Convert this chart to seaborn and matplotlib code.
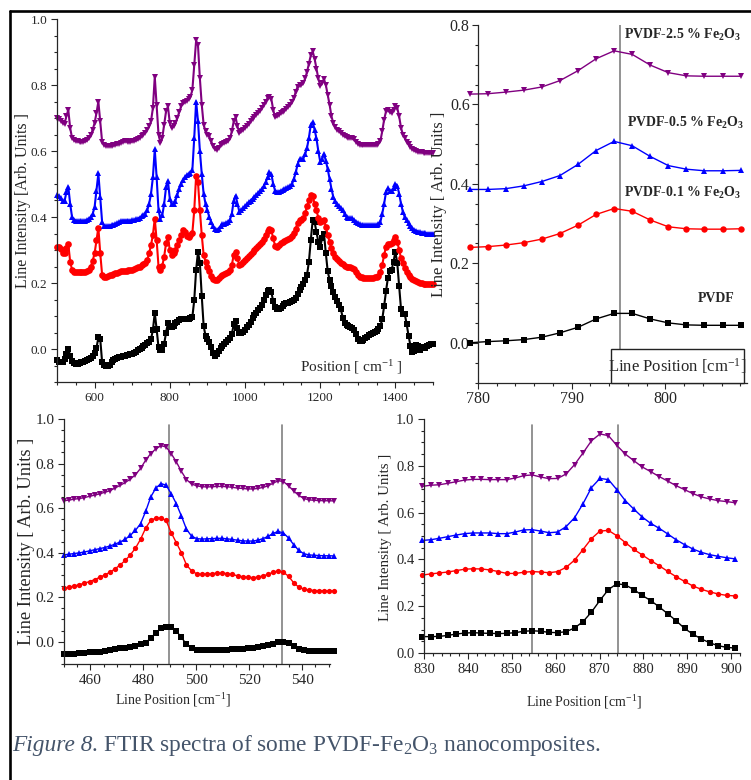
import numpy as np
import pandas as pd
import matplotlib
matplotlib.use('Agg')
import matplotlib.pyplot as plt
import seaborn as sns
from matplotlib.ticker import MultipleLocator, FormatStrFormatter
from matplotlib.patches import Rectangle
from matplotlib.lines import Line2D

# ---- data ----
samples = ['PVDF', 'PVDF-0.1 % Fe2O3', 'PVDF-0.5 % Fe2O3', 'PVDF-2.5 % Fe2O3']
colors = ['black', 'red', 'blue', '#800080']
marks = ['s', 'o', '^', 'v']

# full spectrum, 500-1500 cm-1 every 5 cm-1
tl_x = np.arange(500, 1501, 5)
tl_black = [
    -0.034, -0.038, -0.040, -0.038, -0.030, -0.015, 0.000, -0.020, -0.036, -0.042,
    -0.045, -0.044, -0.042, -0.040, -0.038, -0.035, -0.033, -0.030, -0.027, -0.022,
    -0.012, 0.003, 0.035, 0.030, -0.040, -0.048, -0.052, -0.052, -0.048, -0.038,
    -0.033, -0.030, -0.027, -0.025, -0.023, -0.021, -0.020, -0.019, -0.017, -0.016,
    -0.015, -0.012, -0.008, -0.004, 0.000, 0.004, 0.008, 0.012, 0.017, 0.022,
    0.030, 0.057, 0.110, 0.060, 0.005, -0.003, -0.004, 0.015, 0.050, 0.078,
    0.068, 0.066, 0.070, 0.078, 0.083, 0.087, 0.090, 0.092, 0.091, 0.090,
    0.092, 0.093, 0.097, 0.148, 0.240, 0.295, 0.260, 0.160, 0.070, 0.040,
    0.030, 0.020, 0.005, -0.012, -0.020, -0.015, -0.005, 0.003, 0.010, 0.016,
    0.021, 0.026, 0.032, 0.045, 0.075, 0.085, 0.065, 0.047, 0.048, 0.052,
    0.058, 0.066, 0.074, 0.083, 0.095, 0.103, 0.110, 0.117, 0.124, 0.133,
    0.148, 0.163, 0.175, 0.180, 0.172, 0.145, 0.127, 0.122, 0.121, 0.124,
    0.130, 0.135, 0.138, 0.140, 0.142, 0.144, 0.148, 0.155, 0.168, 0.178,
    0.188, 0.198, 0.210, 0.225, 0.265, 0.330, 0.390, 0.385, 0.355, 0.325,
    0.310, 0.335, 0.350, 0.290, 0.235, 0.210, 0.190, 0.172, 0.158, 0.145,
    0.133, 0.120, 0.095, 0.078, 0.072, 0.069, 0.067, 0.063, 0.058, 0.045,
    0.030, 0.025, 0.024, 0.028, 0.033, 0.037, 0.041, 0.044, 0.048, 0.052,
    0.056, 0.060, 0.070, 0.090, 0.130, 0.175, 0.215, 0.235, 0.240, 0.265,
    0.295, 0.260, 0.190, 0.120, 0.107, 0.105, 0.075, 0.040, 0.010, -0.008,
    -0.005, 0.012, 0.010, -0.003, 0.002, 0.005, 0.003, 0.010, 0.013, 0.015,
    0.016]
tl_red = [
    0.310, 0.308, 0.303, 0.292, 0.290, 0.305, 0.318, 0.265, 0.240, 0.234,
    0.232, 0.232, 0.233, 0.233, 0.233, 0.234, 0.235, 0.240, 0.250, 0.268,
    0.290, 0.330, 0.368, 0.290, 0.225, 0.218, 0.219, 0.221, 0.223, 0.225,
    0.227, 0.229, 0.231, 0.233, 0.235, 0.236, 0.237, 0.237, 0.238, 0.239,
    0.240, 0.242, 0.244, 0.247, 0.250, 0.254, 0.258, 0.262, 0.270, 0.290,
    0.315, 0.345, 0.395, 0.330, 0.250, 0.240, 0.252, 0.280, 0.320, 0.340,
    0.300, 0.285, 0.290, 0.300, 0.315, 0.330, 0.345, 0.360, 0.355, 0.343,
    0.340, 0.345, 0.352, 0.420, 0.525, 0.505, 0.420, 0.345, 0.285, 0.265,
    0.250, 0.235, 0.222, 0.212, 0.208, 0.210, 0.215, 0.220, 0.224, 0.228,
    0.230, 0.234, 0.240, 0.255, 0.285, 0.295, 0.275, 0.254, 0.258, 0.264,
    0.270, 0.276, 0.282, 0.288, 0.294, 0.300, 0.305, 0.312, 0.318, 0.325,
    0.334, 0.345, 0.357, 0.365, 0.360, 0.335, 0.313, 0.310, 0.315, 0.320,
    0.324, 0.328, 0.331, 0.334, 0.337, 0.343, 0.352, 0.365, 0.383, 0.390,
    0.390, 0.398, 0.412, 0.432, 0.452, 0.468, 0.465, 0.440, 0.420, 0.398,
    0.386, 0.388, 0.392, 0.370, 0.345, 0.325, 0.305, 0.290, 0.280, 0.272,
    0.266, 0.262, 0.257, 0.252, 0.249, 0.248, 0.249, 0.246, 0.241, 0.232,
    0.224, 0.219, 0.217, 0.216, 0.216, 0.216, 0.216, 0.216, 0.216, 0.217,
    0.218, 0.222, 0.232, 0.255, 0.285, 0.310, 0.318, 0.318, 0.320, 0.330,
    0.338, 0.325, 0.300, 0.275, 0.262, 0.245, 0.232, 0.224, 0.218, 0.213,
    0.210, 0.206, 0.203, 0.200, 0.199, 0.198, 0.197, 0.197, 0.196, 0.196,
    0.196]
tl_blue = [
    0.467, 0.464, 0.458, 0.448, 0.448, 0.475, 0.492, 0.440, 0.400, 0.392,
    0.389, 0.388, 0.388, 0.388, 0.388, 0.389, 0.390, 0.395, 0.400, 0.410,
    0.430, 0.480, 0.532, 0.460, 0.385, 0.372, 0.372, 0.373, 0.374, 0.375,
    0.377, 0.379, 0.381, 0.384, 0.387, 0.389, 0.389, 0.389, 0.389, 0.389,
    0.390, 0.391, 0.393, 0.395, 0.398, 0.402, 0.406, 0.410, 0.420, 0.440,
    0.470, 0.520, 0.605, 0.520, 0.420, 0.395, 0.405, 0.440, 0.490, 0.510,
    0.455, 0.438, 0.440, 0.450, 0.468, 0.485, 0.500, 0.512, 0.520, 0.527,
    0.530, 0.534, 0.542, 0.640, 0.750, 0.690, 0.600, 0.530, 0.470, 0.440,
    0.420, 0.400, 0.385, 0.372, 0.363, 0.360, 0.365, 0.372, 0.378, 0.380,
    0.382, 0.385, 0.392, 0.410, 0.450, 0.465, 0.440, 0.416, 0.420, 0.426,
    0.432, 0.438, 0.444, 0.450, 0.456, 0.462, 0.467, 0.473, 0.479, 0.485,
    0.493, 0.505, 0.520, 0.535, 0.530, 0.500, 0.480, 0.476, 0.477, 0.479,
    0.481, 0.484, 0.487, 0.490, 0.494, 0.500, 0.515, 0.535, 0.560, 0.575,
    0.575, 0.577, 0.590, 0.610, 0.640, 0.680, 0.688, 0.665, 0.638, 0.600,
    0.568, 0.575, 0.592, 0.570, 0.545, 0.515, 0.485, 0.460, 0.448, 0.440,
    0.434, 0.428, 0.420, 0.410, 0.400, 0.397, 0.397, 0.396, 0.392, 0.386,
    0.381, 0.378, 0.376, 0.375, 0.375, 0.375, 0.375, 0.375, 0.375, 0.375,
    0.376, 0.378, 0.385, 0.410, 0.440, 0.475, 0.487, 0.480, 0.478, 0.488,
    0.500, 0.495, 0.470, 0.440, 0.415, 0.400, 0.390, 0.381, 0.373, 0.366,
    0.361, 0.358, 0.356, 0.354, 0.353, 0.352, 0.351, 0.350, 0.350, 0.350,
    0.350]
tl_purple = [
    0.700, 0.697, 0.692, 0.685, 0.683, 0.705, 0.725, 0.670, 0.640, 0.633,
    0.630, 0.629, 0.628, 0.628, 0.628, 0.629, 0.632, 0.638, 0.648, 0.665,
    0.685, 0.715, 0.750, 0.690, 0.628, 0.618, 0.616, 0.615, 0.615, 0.615,
    0.617, 0.618, 0.620, 0.622, 0.625, 0.628, 0.629, 0.629, 0.628, 0.628,
    0.629, 0.630, 0.632, 0.635, 0.640, 0.645, 0.650, 0.655, 0.665, 0.675,
    0.690, 0.730, 0.825, 0.740, 0.650, 0.625, 0.640, 0.680, 0.720, 0.735,
    0.685, 0.670, 0.675, 0.684, 0.700, 0.718, 0.735, 0.745, 0.748, 0.752,
    0.757, 0.765, 0.785, 0.860, 0.935, 0.920, 0.820, 0.740, 0.680, 0.660,
    0.650, 0.644, 0.630, 0.615, 0.605, 0.603, 0.610, 0.618, 0.622, 0.624,
    0.626, 0.630, 0.638, 0.660, 0.690, 0.702, 0.675, 0.654, 0.660, 0.665,
    0.670, 0.676, 0.682, 0.690, 0.697, 0.704, 0.710, 0.716, 0.722, 0.730,
    0.740, 0.750, 0.760, 0.765, 0.758, 0.725, 0.702, 0.705, 0.710, 0.714,
    0.718, 0.722, 0.728, 0.734, 0.740, 0.748, 0.760, 0.780, 0.795, 0.800,
    0.800, 0.805, 0.820, 0.840, 0.865, 0.890, 0.902, 0.880, 0.850, 0.820,
    0.798, 0.805, 0.818, 0.800, 0.770, 0.740, 0.705, 0.684, 0.672, 0.665,
    0.660, 0.655, 0.650, 0.645, 0.642, 0.640, 0.640, 0.639, 0.635, 0.628,
    0.622, 0.619, 0.617, 0.617, 0.617, 0.617, 0.617, 0.617, 0.617, 0.617,
    0.618, 0.622, 0.630, 0.660, 0.695, 0.720, 0.725, 0.718, 0.715, 0.725,
    0.735, 0.730, 0.705, 0.670, 0.650, 0.640, 0.628, 0.620, 0.612, 0.606,
    0.602, 0.600, 0.598, 0.597, 0.596, 0.595, 0.594, 0.594, 0.593, 0.593,
    0.593]

# 780-808 cm-1 band
tr_x = 779.1 + 1.928 * np.arange(16)
tr_black = [0.000, 0.003, 0.005, 0.008, 0.014, 0.025, 0.039, 0.060,
            0.074, 0.074, 0.060, 0.050, 0.045, 0.044, 0.044, 0.044]
tr_red = [0.240, 0.242, 0.246, 0.252, 0.261, 0.275, 0.296, 0.323,
          0.338, 0.331, 0.309, 0.292, 0.287, 0.286, 0.286, 0.287]
tr_blue = [0.386, 0.386, 0.388, 0.395, 0.406, 0.421, 0.449, 0.484,
           0.507, 0.496, 0.469, 0.446, 0.437, 0.433, 0.433, 0.434]
tr_purple = [0.626, 0.627, 0.631, 0.636, 0.644, 0.660, 0.685, 0.715,
             0.735, 0.726, 0.699, 0.680, 0.672, 0.671, 0.671, 0.671]
tr_lines = [795.1]

# 450-552 cm-1 band
bl_x = 450 + 1.928 * np.arange(54)
bl_black = [
    -0.057, -0.055, -0.053, -0.051, -0.050, -0.048, -0.046, -0.044, -0.041, -0.038,
    -0.034, -0.030, -0.027, -0.024, -0.019, -0.012, -0.005, 0.017, 0.040, 0.062,
    0.068, 0.064, 0.048, 0.020, -0.012, -0.029, -0.036, -0.038, -0.038, -0.037,
    -0.036, -0.035, -0.035, -0.034, -0.033, -0.032, -0.030, -0.028, -0.025, -0.021,
    -0.016, -0.009, -0.003, 0.000, -0.006, -0.020, -0.032, -0.037, -0.040, -0.041,
    -0.042, -0.042, -0.043, -0.043]
bl_red = [
    0.240, 0.245, 0.250, 0.256, 0.263, 0.270, 0.279, 0.289, 0.300, 0.312,
    0.327, 0.345, 0.365, 0.390, 0.420, 0.460, 0.510, 0.545, 0.555, 0.555,
    0.545, 0.490, 0.445, 0.400, 0.345, 0.318, 0.305, 0.302, 0.304, 0.306,
    0.308, 0.308, 0.306, 0.302, 0.296, 0.292, 0.289, 0.288, 0.290, 0.296,
    0.302, 0.313, 0.318, 0.312, 0.294, 0.265, 0.245, 0.236, 0.232, 0.230,
    0.229, 0.229, 0.228, 0.228]
bl_blue = [
    0.390, 0.393, 0.396, 0.399, 0.403, 0.408, 0.413, 0.418, 0.423, 0.430,
    0.438, 0.448, 0.460, 0.478, 0.500, 0.530, 0.585, 0.650, 0.690, 0.710,
    0.703, 0.665, 0.620, 0.565, 0.505, 0.474, 0.463, 0.461, 0.462, 0.463,
    0.464, 0.464, 0.462, 0.459, 0.456, 0.453, 0.452, 0.452, 0.456, 0.463,
    0.473, 0.487, 0.495, 0.488, 0.466, 0.436, 0.410, 0.395, 0.390, 0.388,
    0.387, 0.386, 0.386, 0.385]
bl_purple = [
    0.633, 0.636, 0.640, 0.643, 0.647, 0.653, 0.658, 0.664, 0.671, 0.678,
    0.690, 0.702, 0.715, 0.730, 0.750, 0.778, 0.815, 0.845, 0.866, 0.880,
    0.875, 0.845, 0.808, 0.765, 0.728, 0.708, 0.700, 0.696, 0.695, 0.696,
    0.697, 0.697, 0.696, 0.693, 0.690, 0.688, 0.686, 0.686, 0.688, 0.693,
    0.700, 0.712, 0.723, 0.719, 0.700, 0.677, 0.657, 0.643, 0.637, 0.635,
    0.634, 0.633, 0.633, 0.632]
bl_lines = [489.8, 532.2]

# 830-901 cm-1 band
br_x = 829.6 + 1.928 * np.arange(38)
br_black = [
    0.070, 0.070, 0.071, 0.075, 0.081, 0.085, 0.087, 0.085, 0.084, 0.083,
    0.084, 0.087, 0.093, 0.095, 0.093, 0.088, 0.087, 0.091, 0.107, 0.134,
    0.175, 0.225, 0.271, 0.296, 0.291, 0.271, 0.246, 0.224, 0.197, 0.168,
    0.138, 0.105, 0.080, 0.060, 0.043, 0.031, 0.024, 0.021]
br_red = [
    0.333, 0.338, 0.342, 0.346, 0.352, 0.358, 0.360, 0.359, 0.355, 0.348,
    0.340, 0.340, 0.345, 0.348, 0.346, 0.343, 0.348, 0.366, 0.397, 0.442,
    0.489, 0.521, 0.524, 0.501, 0.472, 0.443, 0.419, 0.395, 0.373, 0.349,
    0.326, 0.306, 0.286, 0.272, 0.261, 0.252, 0.246, 0.244]
br_blue = [
    0.481, 0.484, 0.490, 0.497, 0.504, 0.510, 0.513, 0.513, 0.513, 0.510,
    0.510, 0.517, 0.526, 0.527, 0.521, 0.514, 0.517, 0.540, 0.578, 0.638,
    0.707, 0.746, 0.741, 0.698, 0.651, 0.615, 0.581, 0.554, 0.533, 0.509,
    0.484, 0.463, 0.444, 0.430, 0.420, 0.413, 0.407, 0.402]
br_purple = [
    0.712, 0.717, 0.719, 0.725, 0.732, 0.739, 0.742, 0.742, 0.741, 0.741,
    0.741, 0.748, 0.758, 0.761, 0.752, 0.745, 0.746, 0.765, 0.805, 0.855,
    0.907, 0.936, 0.929, 0.887, 0.850, 0.822, 0.795, 0.775, 0.754, 0.735,
    0.715, 0.698, 0.681, 0.667, 0.658, 0.651, 0.647, 0.642]
br_lines = [854.7, 874.3]

caption_head = 'Figure 8.'
caption_body = r'FTIR spectra of some PVDF-Fe$_2$O$_3$ nanocomposites.'


def long_df(x, *series):
    parts = [pd.DataFrame({'x': x, 'y': y, 'sample': s}) for s, y in zip(samples, series)]
    return pd.concat(parts, ignore_index=True)


def draw(ax, df, ms, lw=1.0):
    sns.lineplot(data=df, x='x', y='y', hue='sample', style='sample',
                 palette=dict(zip(samples, colors)), markers=dict(zip(samples, marks)),
                 dashes=False, markersize=ms, markeredgewidth=0, linewidth=lw,
                 estimator=None, sort=False, legend=False, clip_on=False, ax=ax)
    ax.set_xlabel('')
    ax.set_ylabel('')
    sns.despine(ax=ax)
    for sp in ax.spines.values():
        sp.set_linewidth(0.9)


def style_ticks(ax, size, pad=3):
    ax.yaxis.set_major_formatter(FormatStrFormatter('%.1f'))
    ax.tick_params(which='both', direction='out', labelsize=size, width=0.8, pad=pad)
    ax.tick_params(which='major', length=4)
    ax.tick_params(which='minor', length=2)


sns.set_style('ticks')
plt.rcParams['font.family'] = ['Liberation Serif', 'DejaVu Serif']
plt.rcParams['mathtext.fontset'] = 'custom'
plt.rcParams['mathtext.rm'] = 'Liberation Serif'
plt.rcParams['mathtext.it'] = 'Liberation Serif:italic'
plt.rcParams['mathtext.bf'] = 'Liberation Serif:bold'

W, H = 751, 780
fig = plt.figure(figsize=(W / 100, H / 100), dpi=100)


def add_ax(l, t, r, b):
    return fig.add_axes([l / W, 1 - b / H, (r - l) / W, (b - t) / H])


ax1 = add_ax(57, 19, 433, 382)
ax2 = add_ax(478, 25, 747, 382.5)
ax3 = add_ax(64, 419, 330, 664)
ax4 = add_ax(424, 419, 740, 653)

# top left: full spectrum
draw(ax1, long_df(tl_x, tl_black, tl_red, tl_blue, tl_purple), ms=4.8, lw=1.5)
ax1.set_xlim(500, 1500)
ax1.set_ylim(-0.1, 1.0)
ax1.set_xticks([600, 800, 1000, 1200, 1400])
ax1.xaxis.set_minor_locator(MultipleLocator(50))
ax1.yaxis.set_major_locator(MultipleLocator(0.2))
ax1.yaxis.set_minor_locator(MultipleLocator(0.05))
style_ticks(ax1, 9.5)
ax1.text(0.782, 0.04, r'Position [ cm$^{-1}$ ]', transform=ax1.transAxes,
         ha='center', va='center', fontsize=11)

# top right: 795 band
draw(ax2, long_df(tr_x, tr_black, tr_red, tr_blue, tr_purple), ms=4.6)
ax2.set_xlim(780, 808.7)
ax2.set_ylim(-0.1, 0.8)
ax2.xaxis.set_major_locator(MultipleLocator(10))
ax2.xaxis.set_minor_locator(MultipleLocator(2))
ax2.yaxis.set_major_locator(MultipleLocator(0.2))
ax2.yaxis.set_minor_locator(MultipleLocator(0.05))
style_ticks(ax2, 11.5, pad=2)
for v in tr_lines:
    ax2.axvline(v, ymin=0.09, ymax=1, color='#808080', lw=1.2, zorder=1)
ax2.add_patch(Rectangle((0.493, 0.0), 0.496, 0.094, transform=ax2.transAxes,
                        facecolor='white', edgecolor='#222222', lw=1.0, zorder=5, clip_on=False))
ax2.text(0.741, 0.047, r'Line Position [cm$^{-1}$]', transform=ax2.transAxes,
         ha='center', va='center', fontsize=12, zorder=6)
ann = [(0.542, 0.961, r'PVDF-2.5 % Fe$_\mathbf{2}$O$_\mathbf{3}$'),
       (0.553, 0.716, r'PVDF-0.5 % Fe$_\mathbf{2}$O$_\mathbf{3}$'),
       (0.542, 0.518, r'PVDF-0.1 % Fe$_\mathbf{2}$O$_\mathbf{3}$'),
       (0.817, 0.226, 'PVDF')]
for ax_x, ax_y, s in ann:
    ax2.text(ax_x, ax_y, s, transform=ax2.transAxes, ha='left', va='baseline',
             fontsize=10, fontweight='bold')

# bottom left: 450-552 band
draw(ax3, long_df(bl_x, bl_black, bl_red, bl_blue, bl_purple), ms=3.8)
ax3.set_xlim(450, 550.5)
ax3.set_ylim(-0.1, 1.0)
ax3.set_xticks([460, 480, 500, 520, 540])
ax3.xaxis.set_minor_locator(MultipleLocator(5))
ax3.yaxis.set_major_locator(MultipleLocator(0.2))
ax3.yaxis.set_minor_locator(MultipleLocator(0.05))
style_ticks(ax3, 11)
for v in bl_lines:
    ax3.axvline(v, ymin=0, ymax=0.975, color='#808080', lw=1.2, zorder=1)

# bottom right: 830-900 band
draw(ax4, long_df(br_x, br_black, br_red, br_blue, br_purple), ms=3.8)
ax4.set_xlim(830, 902)
ax4.set_ylim(0, 1.0)
ax4.xaxis.set_major_locator(MultipleLocator(10))
ax4.xaxis.set_minor_locator(MultipleLocator(2))
ax4.yaxis.set_major_locator(MultipleLocator(0.2))
ax4.yaxis.set_minor_locator(MultipleLocator(0.05))
style_ticks(ax4, 10.5)
for v in br_lines:
    ax4.axvline(v, ymin=0, ymax=0.975, color='#808080', lw=1.2, zorder=1)

# axis titles
fig.text(23 / W, 1 - 200 / H, 'Line Intensity [Arb. Units ]', rotation=90,
         ha='center', va='center', fontsize=11.5)
fig.text(439 / W, 1 - 204 / H, 'Line Intensity [ Arb. Units ]', rotation=90,
         ha='center', va='center', fontsize=12)
fig.text(27 / W, 1 - 541 / H, 'Line Intensity [ Arb. Units ]', rotation=90,
         ha='center', va='center', fontsize=13.3)
fig.text(385 / W, 1 - 537 / H, 'Line Intensity [ Arb. Units ]', rotation=90,
         ha='center', va='center', fontsize=10.8)
fig.text(173 / W, 1 - 700 / H, r'Line Position [cm$^{-1}$]', ha='center', va='center', fontsize=10)
fig.text(584 / W, 1 - 702 / H, r'Line Position [cm$^{-1}$]', ha='center', va='center', fontsize=10)

# caption: italic head, plain body
cap_col = '#44546A'
t1 = fig.text(12 / W, 1 - 751 / H, caption_head, ha='left', va='baseline',
              fontsize=16.8, style='italic', color=cap_col)
fig.canvas.draw()
bb = t1.get_window_extent(renderer=fig.canvas.get_renderer())
fig.text((bb.x1 + 5) / W, 1 - 751 / H, caption_body, ha='left', va='baseline',
         fontsize=16.8, color=cap_col)

# page frame
fig.add_artist(Line2D([9.5 / W, 1.0], [1 - 11 / H, 1 - 11 / H], color='black', lw=1.9))
fig.add_artist(Line2D([9.5 / W, 9.5 / W], [0.0, 1 - 11 / H], color='black', lw=1.9))

fig.savefig('out.png', dpi=100)
plt.close(fig)
